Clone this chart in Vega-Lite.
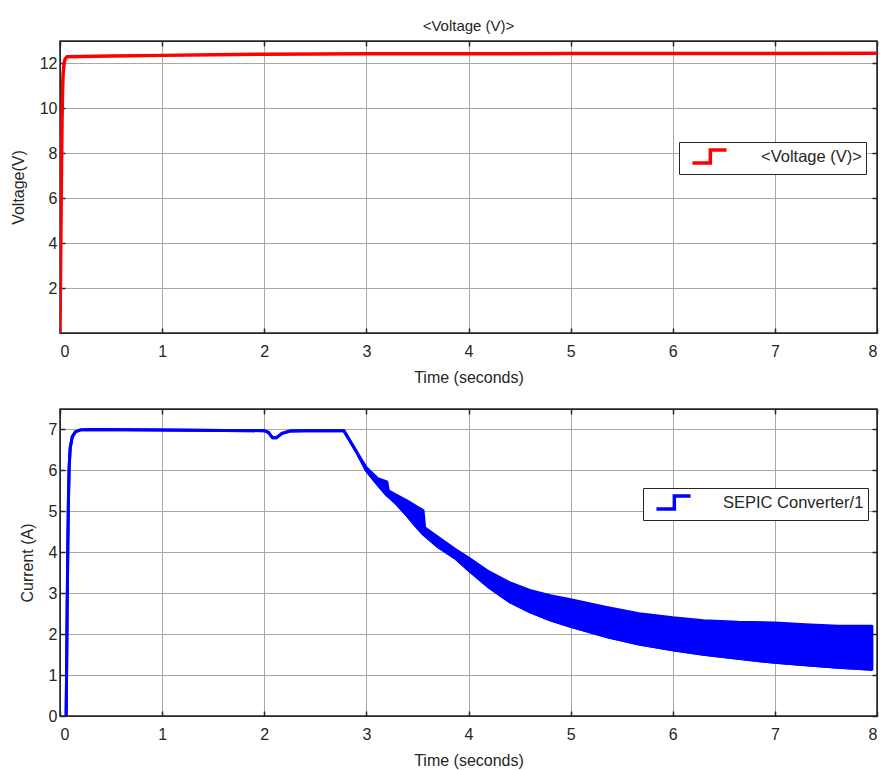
{
  "$schema": "https://vega.github.io/schema/vega-lite/v6.json",
  "background": "white",
  "padding": {"left": 9, "top": 18, "right": 0, "bottom": 0},
  "spacing": 21,
  "resolve": {"scale": {"color": "independent"}, "legend": {"color": "independent"}},
  "config": {
    "font": "Liberation Sans",
    "view": {"stroke": "#262626", "strokeWidth": 1.5},
    "axis": {
      "labelFont": "Liberation Sans", "titleFont": "Liberation Sans",
      "labelFontSize": 16, "titleFontSize": 16,
      "labelColor": "#262626", "titleColor": "#262626",
      "titleFontWeight": "normal",
      "domainColor": "#262626", "tickColor": "#262626",
      "tickSize": -5, "tickWidth": 1.5,
      "gridColor": "#a8a8a8", "gridOpacity": 1, "gridWidth": 1
    },
    "legend": {"labelFont": "Liberation Sans", "labelFontSize": 16.5, "labelColor": "#262626"}
  },
  "datasets": {
    "volt": [
      {"t": 0, "v": 0}, {"t": 0.005, "v": 2.5}, {"t": 0.01, "v": 5}, {"t": 0.015, "v": 7.5},
      {"t": 0.02, "v": 9.5}, {"t": 0.025, "v": 10.8}, {"t": 0.03, "v": 11.5}, {"t": 0.04, "v": 12.0},
      {"t": 0.05, "v": 12.2}, {"t": 0.07, "v": 12.3}, {"t": 0.5, "v": 12.33}, {"t": 1, "v": 12.36},
      {"t": 1.5, "v": 12.39}, {"t": 2, "v": 12.41}, {"t": 2.5, "v": 12.42}, {"t": 3, "v": 12.43},
      {"t": 5, "v": 12.44}, {"t": 8, "v": 12.45}
    ],
    "curr": [
      {"t": 0.06, "lo": 0, "hi": 0}, {"t": 0.065, "lo": 1.2, "hi": 1.2}, {"t": 0.07, "lo": 2.6, "hi": 2.6},
      {"t": 0.076, "lo": 4.0, "hi": 4.0}, {"t": 0.082, "lo": 5.2, "hi": 5.2}, {"t": 0.09, "lo": 6.1, "hi": 6.1},
      {"t": 0.1, "lo": 6.55, "hi": 6.55}, {"t": 0.12, "lo": 6.82, "hi": 6.82}, {"t": 0.15, "lo": 6.94, "hi": 6.94},
      {"t": 0.2, "lo": 6.99, "hi": 6.99}, {"t": 0.3, "lo": 7.0, "hi": 7.0}, {"t": 1.0, "lo": 6.99, "hi": 6.99},
      {"t": 2.0, "lo": 6.97, "hi": 6.97}, {"t": 2.04, "lo": 6.93, "hi": 6.93}, {"t": 2.08, "lo": 6.8, "hi": 6.8},
      {"t": 2.12, "lo": 6.8, "hi": 6.8}, {"t": 2.17, "lo": 6.9, "hi": 6.9}, {"t": 2.25, "lo": 6.96, "hi": 6.96},
      {"t": 2.4, "lo": 6.97, "hi": 6.97}, {"t": 2.78, "lo": 6.97, "hi": 6.97}, {"t": 2.9, "lo": 6.47, "hi": 6.47},
      {"t": 3.0, "lo": 6.0, "hi": 6.06}, {"t": 3.11, "lo": 5.66, "hi": 5.8}, {"t": 3.2, "lo": 5.4, "hi": 5.72},
      {"t": 3.215, "lo": 5.37, "hi": 5.5}, {"t": 3.29, "lo": 5.2, "hi": 5.4}, {"t": 3.4, "lo": 4.9, "hi": 5.25},
      {"t": 3.48, "lo": 4.66, "hi": 5.13}, {"t": 3.555, "lo": 4.45, "hi": 5.02}, {"t": 3.57, "lo": 4.42, "hi": 4.6},
      {"t": 3.7, "lo": 4.14, "hi": 4.37}, {"t": 3.87, "lo": 3.86, "hi": 4.07}, {"t": 4.0, "lo": 3.57, "hi": 3.86},
      {"t": 4.2, "lo": 3.15, "hi": 3.52}, {"t": 4.4, "lo": 2.8, "hi": 3.26}, {"t": 4.6, "lo": 2.55, "hi": 3.07},
      {"t": 4.8, "lo": 2.35, "hi": 2.94}, {"t": 5.0, "lo": 2.19, "hi": 2.84}, {"t": 5.34, "lo": 1.95, "hi": 2.66},
      {"t": 5.67, "lo": 1.76, "hi": 2.5}, {"t": 6.0, "lo": 1.62, "hi": 2.4}, {"t": 6.3, "lo": 1.51, "hi": 2.33},
      {"t": 6.64, "lo": 1.41, "hi": 2.29}, {"t": 7.0, "lo": 1.31, "hi": 2.27}, {"t": 7.3, "lo": 1.25, "hi": 2.23},
      {"t": 7.62, "lo": 1.19, "hi": 2.19}, {"t": 7.95, "lo": 1.14, "hi": 2.19}
    ]
  },
  "vconcat": [
    {
      "width": 817, "height": 292,
      "title": {"text": "<Voltage (V)>", "fontSize": 15, "fontWeight": "normal", "color": "#262626", "offset": 6, "anchor": "middle", "font": "Liberation Sans"},
      "data": {"name": "volt"},
      "layer": [
        {
          "mark": {"type": "line", "color": "#ff0000", "strokeWidth": 3.5, "clip": true},
          "encoding": {
            "x": {"field": "t", "type": "quantitative", "scale": {"domain": [0, 8], "nice": false},
                  "axis": {"title": "Time (seconds)", "values": [0,1,2,3,4,5,6,7,8], "grid": true, "labelPadding": 15, "titlePadding": 10}},
            "y": {"field": "v", "type": "quantitative", "scale": {"domain": [0, 13], "nice": false},
                  "axis": {"title": "Voltage(V)", "values": [2,4,6,8,10,12], "grid": true, "labelPadding": 8, "titlePadding": 13}},
            "color": {"datum": "<Voltage (V)>", "type": "nominal", "scale": {"range": ["#ff0000"]},
                      "legend": {"orient": "none", "legendX": 619, "legendY": 101, "title": null, "strokeColor": "#262626",
                                 "fillColor": "white", "padding": 4, "symbolType": "M -2 0.76 H 0.1 V -0.76 H 2",
                                 "symbolSize": 290, "symbolOffset": 16, "symbolStrokeWidth": 3.5, "labelOffset": 41,
                                 "encode": {"symbols": {"update": {"fill": {"value": "transparent"}, "stroke": {"value": "#ff0000"}}}}}}
          }
        },
        {
          "mark": {"type": "line", "opacity": 0},
          "encoding": {
            "x": {"field": "t", "type": "quantitative", "scale": {"domain": [0, 8], "nice": false},
                  "axis": {"orient": "top", "values": [0,1,2,3,4,5,6,7,8], "labels": false, "title": null, "grid": false}},
            "y": {"field": "v", "type": "quantitative", "scale": {"domain": [0, 13], "nice": false},
                  "axis": {"orient": "right", "values": [2,4,6,8,10,12], "labels": false, "title": null, "grid": false}}
          }
        }
      ],
      "resolve": {"scale": {"x": "independent", "y": "independent"}}
    },
    {
      "width": 817, "height": 307,
      "data": {"name": "curr"},
      "layer": [
        {
          "encoding": {
            "x": {"field": "t", "type": "quantitative", "scale": {"domain": [0, 8], "nice": false},
                  "axis": {"title": "Time (seconds)", "values": [0,1,2,3,4,5,6,7,8], "grid": true, "labelPadding": 15, "titlePadding": 10}},
            "y": {"field": "lo", "type": "quantitative", "scale": {"domain": [0, 7.5], "nice": false},
                  "axis": {"title": "Current (A)", "values": [0,1,2,3,4,5,6,7], "grid": true, "labelPadding": 8, "titlePadding": 13}}
          },
          "layer": [
            {
              "mark": {"type": "area", "color": "#0000ff", "stroke": "#0000ff", "strokeWidth": 3, "strokeJoin": "round", "clip": true},
              "encoding": {"y2": {"field": "hi"}}
            },
            {
              "mark": {"type": "line", "strokeWidth": 3, "clip": true},
              "encoding": {
                "color": {"datum": "SEPIC Converter/1", "type": "nominal", "scale": {"range": ["#0000ff"]},
                          "legend": {"orient": "none", "legendX": 583, "legendY": 79, "title": null, "strokeColor": "#262626",
                                     "fillColor": "white", "padding": 4, "symbolType": "M -2 0.76 H 0.1 V -0.76 H 2",
                                     "symbolSize": 290, "symbolOffset": 16, "symbolStrokeWidth": 3.5, "labelOffset": 39,
                                     "encode": {"symbols": {"update": {"fill": {"value": "transparent"}, "stroke": {"value": "#0000ff"}}}}}}
              }
            }
          ]
        },
        {
          "mark": {"type": "line", "opacity": 0},
          "encoding": {
            "x": {"field": "t", "type": "quantitative", "scale": {"domain": [0, 8], "nice": false},
                  "axis": {"orient": "top", "values": [0,1,2,3,4,5,6,7,8], "labels": false, "title": null, "grid": false}},
            "y": {"field": "lo", "type": "quantitative", "scale": {"domain": [0, 7.5], "nice": false},
                  "axis": {"orient": "right", "values": [0,1,2,3,4,5,6,7], "labels": false, "title": null, "grid": false}}
          }
        }
      ],
      "resolve": {"scale": {"x": "independent", "y": "independent"}}
    }
  ]
}
